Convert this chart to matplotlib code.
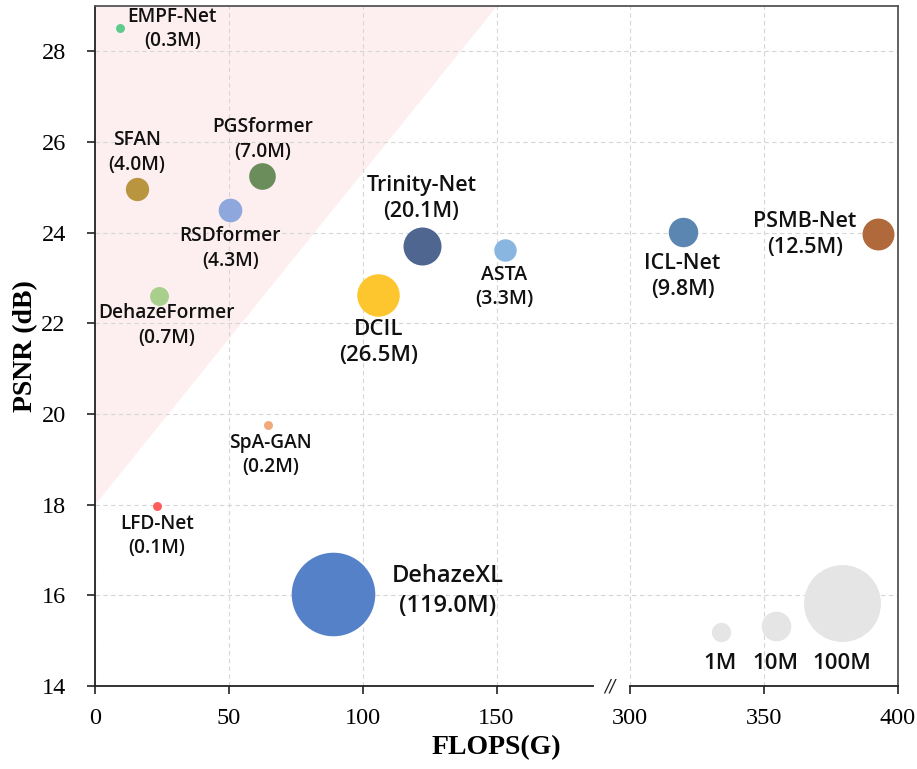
import numpy as np
import matplotlib
matplotlib.use("Agg")
import matplotlib.pyplot as plt

# data
names = ["EMPF-Net", "SFAN", "PGSformer", "RSDformer", "DehazeFormer", "Trinity-Net",
         "DCIL", "ASTA", "ICL-Net", "PSMB-Net", "SpA-GAN", "LFD-Net", "DehazeXL"]
flops = [9.4, 15.7, 62.5, 50.6, 24.0, 122.0, 105.6, 153.0, 319.5, 392.5, 64.8, 23.2, 89.1]
psnr = [28.51, 24.97, 25.26, 24.49, 22.61, 23.71, 22.63, 23.62, 24.02, 23.96, 19.76, 17.97, 16.03]
params = [0.3, 4.0, 7.0, 4.3, 0.7, 20.1, 26.5, 3.3, 9.8, 12.5, 0.2, 0.1, 119.0]
colors = ["#5dcb8c", "#b9953f", "#6b8c5b", "#8ea8dd", "#a9cf8c", "#4e6690",
          "#fec62e", "#88b6e0", "#5b86b1", "#b0693a", "#f2a97a", "#ff5b5b", "#5581c9"]

legend_params = [1, 10, 100]
legend_flops = [333.7, 354.3, 379.0]
legend_psnr = [15.19, 15.32, 15.83]
legend_labels = ["1M", "10M", "100M"]

xticks = [0, 50, 100, 150, 300, 350, 400]
yticks = [14, 16, 18, 20, 22, 24, 26, 28]

# label placement (pixel offsets, font size)
label_dx = [52, 0, 0, 0, 7, 0, 1, 0, 0, -73, 2, 0, 114]
label_dy = [-1, 36, 36, -38, -30, 47, -48, -37, -45, 0, -30, -30, 3]
label_fs = [13.8, 13.8, 13.8, 13.8, 13.8, 15.4, 16, 14, 15.5, 15.5, 13.8, 13.8, 17]

DPI = 100
PX = 72 / DPI


def fx(v):
    # broken axis: 300..400 drawn right after 200
    return v if v < 250 else v - 100


def bubble(p):
    r2 = (250 + 44 * p) / np.pi if p >= 0.5 else 20.0
    return 4 * r2 * PX ** 2


label_font = dict(family="Open Sans", fontweight="semibold", color="#111111")

fig = plt.figure(figsize=(9.17, 7.69), dpi=DPI)
ax = fig.add_axes([0.1036, 0.1079, 0.8757, 0.8843])
ax.set_xlim(0, 300)
ax.set_ylim(14, 29)

# pink region
ax.fill([0, 0, 150], [18, 29, 29], color="#fdeff0", lw=0, zorder=0)

ax.set_xticks([fx(t) for t in xticks])
ax.set_xticklabels([str(t) for t in xticks])
ax.set_yticks(yticks)
ax.grid(True, ls=(0, (4, 3)), color="#d6d6d6", lw=0.8, zorder=1)
ax.set_axisbelow(True)

for x, y, p, c in zip(flops, psnr, params, colors):
    ax.scatter(fx(x), y, s=bubble(p), color=c, lw=0, zorder=3)

for i, n in enumerate(names):
    ax.annotate(f"{n}\n({params[i]:.1f}M)", (fx(flops[i]), psnr[i]),
                xytext=(label_dx[i] * PX, label_dy[i] * PX), textcoords="offset points",
                ha="center", va="center", fontsize=label_fs[i], linespacing=1.3,
                zorder=4, **label_font)

for x, y, p, t in zip(legend_flops, legend_psnr, legend_params, legend_labels):
    ax.scatter(fx(x), y, s=bubble(p), color="#e5e5e5", lw=0, zorder=3)
    ax.text(fx(x), 14.5, t, ha="center", va="center", fontsize=16, zorder=4, **label_font)

for s in ax.spines.values():
    s.set_linewidth(1.3)
    s.set_color("#222222")
ax.spines["top"].set_color("#555555")
ax.spines["right"].set_color("#555555")
ax.spines["bottom"].set_bounds(0, 186)
ax.plot([200, 300], [14, 14], color="#222222", lw=1.3, clip_on=False, zorder=5)
ax.text(192.5, 14, "//", ha="center", va="center", fontsize=12, color="#222222",
        family="DejaVu Sans", style="italic", clip_on=False)

ax.tick_params(direction="out", length=6, width=1.2, color="#222222", labelsize=17.5)
ax.tick_params(axis="x", pad=10)
ax.tick_params(axis="y", pad=15)
for lab in ax.get_xticklabels() + ax.get_yticklabels():
    lab.set_family("Liberation Serif")

ax.set_xlabel("FLOPS(G)", family="Liberation Serif", fontweight="bold", fontsize=20, labelpad=4)
ax.set_ylabel("PSNR (dB)", family="Liberation Serif", fontweight="bold", fontsize=20, labelpad=2)

fig.savefig("out.png", dpi=DPI)
